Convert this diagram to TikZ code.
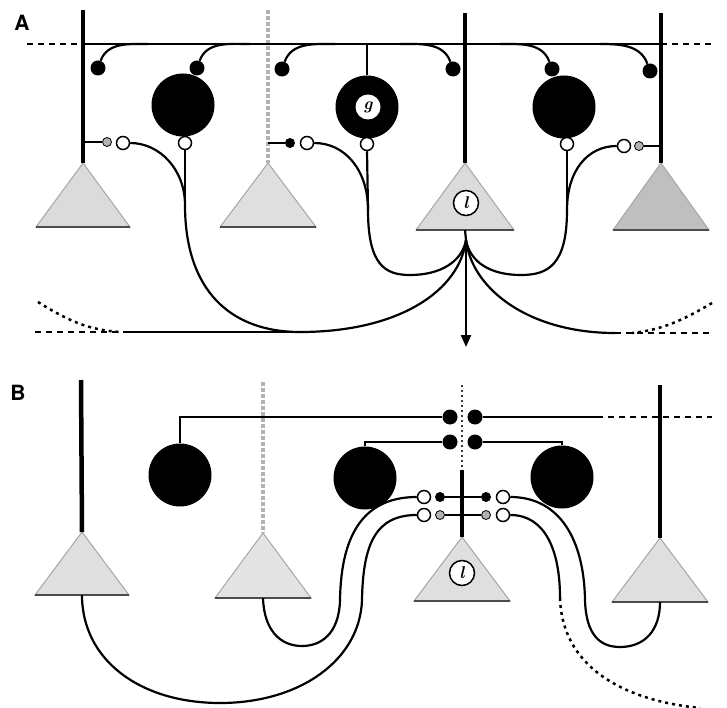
\documentclass[tikz,border=0pt]{standalone}
\usepackage{fontspec}
\setsansfont{TeX Gyre Heros}
\usetikzlibrary{arrows.meta}
\newcommand\somatri[6]{%
  \coordinate (#1t) at (#2,#3);
  \coordinate (#1b) at (#2,#4);
  \coordinate (#1l) at (#2-#5,#4);
  \coordinate (#1r) at (#2+#5,#4);
  \filldraw[soma, fill=#6] (#1t) -- (#1r) -- (#1l) -- cycle;
  \draw[line width=2pt, black!70] (#1l) -- (#1r);
}
\begin{document}
\begin{tikzpicture}[x=1pt,y=-1pt,
  axon/.style={line width=2.2pt},
  dend/.style={line width=4.5pt},
  denddot/.style={line width=4pt, gray!60, dash pattern=on 4pt off 2pt},
  dendfine/.style={line width=2.8pt, gray!45!black, dash pattern=on 2pt off 3pt},
  inter/.style={circle, fill=black, minimum size=63pt, inner sep=0pt},
  bouton/.style={circle, fill=black, minimum size=15pt, inner sep=0pt},
  opensyn/.style={circle, draw=black, fill=white, line width=1.5pt, minimum size=13pt, inner sep=0pt},
  smalldot/.style={circle, fill=black, minimum size=10pt, inner sep=0pt},
  graydot/.style={circle, fill=gray!60, draw=black, line width=0.8pt, minimum size=9pt, inner sep=0pt},
  soma/.style={draw=gray!70, line width=1pt},
  dashedline/.style={line width=2.2pt, dash pattern=on 6pt off 5pt},
  dottedline/.style={line width=2.5pt, dash pattern=on 3pt off 4pt},
  panel/.style={font=\sffamily\bfseries\fontsize{21}{21}\selectfont},
  lab/.style={font=\bfseries\itshape\fontsize{17}{17}\selectfont}
]
\useasboundingbox (0,0) rectangle (727,708);

% ================= Panel A =================
\node[panel] (pA) at (22,23) {A};

\somatri{a1}{83}{163}{227}{47}{gray!28}
\somatri{a2}{268}{163}{227}{48}{gray!25}
\somatri{a3}{465}{163}{230}{49}{gray!28}
\somatri{a4}{661}{163}{230}{48}{gray!50}

\coordinate (a1d) at (83,10);
\coordinate (a2d) at (268,10);
\coordinate (a3d) at (465,13);
\coordinate (a4d) at (661,13);
\draw[dend] (a1d) -- (a1t);
\draw[denddot] (a2d) -- (a2t);
\draw[dend] (a3d) -- (a3t);
\draw[dend] (a4d) -- (a4t);

% horizontal axon
\coordinate (aL) at (27,44);
\coordinate (aR) at (712,44);
\coordinate (a1h) at (83,44);
\coordinate (a4h) at (661,44);
\draw[dashedline] (aL) -- (a1h);
\draw[axon] (a1h) -- (a4h);
\draw[dashedline] (a4h) -- (aR);

% boutons from horizontal axon
\node[bouton] (ab1) at (98,68) {};
\node[bouton] (ab2) at (197,68) {};
\node[bouton] (ab3) at (282,69) {};
\node[bouton] (ab4) at (453,69) {};
\node[bouton] (ab5) at (552,69) {};
\node[bouton] (ab6) at (650,71) {};
\coordinate (ah1) at (148,44);
\coordinate (ah2) at (250,44);
\coordinate (ah3) at (335,44);
\coordinate (ah4) at (400,44);
\coordinate (ah5) at (500,44);
\coordinate (ah6) at (600,44);
\draw[axon] (ah1) to[out=180,in=70] (ab1);
\draw[axon] (ah2) to[out=180,in=70] (ab2);
\draw[axon] (ah3) to[out=180,in=70] (ab3);
\draw[axon] (ah4) to[out=0,in=110] (ab4);
\draw[axon] (ah5) to[out=0,in=110] (ab5);
\draw[axon] (ah6) to[out=0,in=110] (ab6);

% interneurons
\node[inter] (ac1) at (183,105) {};
\node[inter] (ac2) at (367,107) {};
\node[inter] (ac3) at (564,107) {};
\node[circle, fill=white, minimum size=25pt, inner sep=0pt, lab] (ag) at (368,107) {g};
\coordinate (ah0) at (367,44);
\draw[axon] (ah0) -- (ac2.north);

% synapses
\node[opensyn] (ao1a) at (123,143) {};
\node[opensyn] (ao1b) at (185,143) {};
\node[opensyn] (ao2a) at (307,143) {};
\node[opensyn] (ao2b) at (367,144) {};
\node[opensyn] (ao3b) at (567,144) {};
\node[opensyn] (ao3a) at (624,146) {};
\node[graydot] (as1) at (107,142) {};
\node[smalldot] (as2) at (290,143) {};
\node[graydot] (as4) at (639,146) {};
\coordinate (a1s) at (83,142);
\coordinate (a2s) at (268,143);
\coordinate (a4s) at (661,146);
\draw[axon] (a1s) -- (as1);
\draw[axon] (a2s) -- (as2);
\draw[axon] (a4s) -- (as4);

% l label
\node[circle, draw, fill=white, line width=1.5pt, minimum size=25pt, inner sep=0pt, lab] (al) at (466,203) {l};

% axon collaterals of cell l
\coordinate (J1) at (185,205);
\coordinate (J2) at (368,210);
\coordinate (J3) at (567,210);
\coordinate (K) at (466,240);
\coordinate (B1) at (300,332);
\coordinate (B2) at (615,333);
\coordinate (aout) at (466,347);
\coordinate (bl0) at (35,332);
\coordinate (bl1) at (127,332);
\coordinate (br1) at (712,333);
\coordinate (dl0) at (38,302);
\coordinate (dl1) at (120,332);
\coordinate (dr0) at (712,303);
\coordinate (dr1) at (632,333);

\draw[axon] (a3b) -- (K);
\draw[axon, -{Triangle[width=10pt,length=12pt]}] (K) -- (aout);

\draw[axon] (ao1a.east) .. controls (160,143) and (185,170) .. (J1);
\draw[axon] (ao1b.south) -- (J1);
\draw[axon] (J1) .. controls (185,290) and (230,332) .. (B1);
\draw[axon] (B1) .. controls (400,332) and (460,290) .. (K);
\draw[axon] (bl1) -- (B1);
\draw[dashedline] (bl0) -- (bl1);
\draw[dottedline] (dl0) .. controls (70,322) and (90,330) .. (dl1);

\draw[axon] (ao2a.east) .. controls (345,143) and (368,170) .. (J2);
\draw[axon] (ao2b.south) -- (J2);
\draw[axon] (J2) .. controls (368,265) and (385,275) .. (410,275) .. controls (440,275) and (462,262) .. (K);

\draw[axon] (ao3a.west) .. controls (588,146) and (567,170) .. (J3);
\draw[axon] (ao3b.south) -- (J3);
\draw[axon] (J3) .. controls (567,265) and (548,275) .. (521,275) .. controls (490,275) and (470,262) .. (K);

\draw[axon] (K) .. controls (472,290) and (530,333) .. (B2);
\draw[dashedline] (B2) -- (br1);
\draw[dottedline] (dr0) .. controls (680,322) and (660,330) .. (dr1);

% ================= Panel B =================
\node[panel] (pB) at (18,393) {B};

\somatri{b1}{82}{532}{595}{47}{gray!25}
\somatri{b2}{263}{533}{598}{48}{gray!22}
\somatri{b3}{462}{537}{601}{48}{gray!25}
\somatri{b4}{660}{538}{602}{48}{gray!25}

\coordinate (b1d) at (81,380);
\coordinate (b2d) at (263,382);
\coordinate (b3d) at (462,385);
\coordinate (b3m) at (462,470);
\coordinate (b4d) at (660,385);
\draw[dend] (b1d) -- (b1t);
\draw[denddot] (b2d) -- (b2t);
\draw[dendfine] (b3d) -- (b3m);
\draw[dend] (b3m) -- (b3t);
\draw[dend] (b4d) -- (b4t);

\node[inter] (bc1) at (180,475) {};
\node[inter] (bc2) at (365,478) {};
\node[inter] (bc3) at (562,477) {};

\node[bouton] (bb1) at (450,417) {};
\node[bouton] (bb2) at (475,417) {};
\node[bouton] (bb3) at (450,442) {};
\node[bouton] (bb4) at (475,442) {};

\coordinate (bk1) at (180,417);
\coordinate (bk2) at (365,442);
\coordinate (bk3) at (562,442);
\coordinate (bh1) at (597,417);
\coordinate (bh2) at (712,417);
\draw[axon] (bc1.north) -- (bk1) -- (bb1);
\draw[axon] (bb2) -- (bh1);
\draw[dashedline] (bh1) -- (bh2);
\draw[axon] (bc2.north) -- (bk2) -- (bb3);
\draw[axon] (bb4) -- (bk3) -- (bc3.north);

% lower synapses
\node[opensyn] (bo1) at (424,497) {};
\node[opensyn] (bo2) at (424,515) {};
\node[opensyn] (bo3) at (503,497) {};
\node[opensyn] (bo4) at (503,515) {};
\node[smalldot] (bs1) at (440,497) {};
\node[graydot] (bs2) at (440,515) {};
\node[smalldot] (bs3) at (486,497) {};
\node[graydot] (bs4) at (486,515) {};
\draw[axon] (bs1) -- (bs3);
\draw[axon] (bs2) -- (bs4);

\node[circle, draw, fill=white, line width=1.5pt, minimum size=25pt, inner sep=0pt, lab] (bl) at (462,573) {l};

% curves
\coordinate (bq1) at (340,600);
\coordinate (bq2) at (362,600);
\coordinate (bq3) at (585,600);
\coordinate (bq4) at (560,598);
\coordinate (bend) at (700,708);

\draw[axon] (bo1.west) .. controls (360,497) and (341,540) .. (bq1)
  .. controls (339,635) and (320,646) .. (302,646)
  .. controls (280,646) and (264,630) .. (b2b);
\draw[axon] (bo2.west) .. controls (375,515) and (363,545) .. (bq2)
  .. controls (360,660) and (300,703) .. (220,703)
  .. controls (140,703) and (82,660) .. (b1b);
\draw[axon] (bo3.east) .. controls (560,497) and (584,540) .. (bq3)
  .. controls (586,635) and (600,647) .. (620,647)
  .. controls (645,647) and (660,630) .. (b4b);
\draw[axon] (bo4.east) .. controls (545,515) and (560,550) .. (bq4);
\draw[dottedline] (bq4) .. controls (562,665) and (620,700) .. (bend);

\end{tikzpicture}
\end{document}
